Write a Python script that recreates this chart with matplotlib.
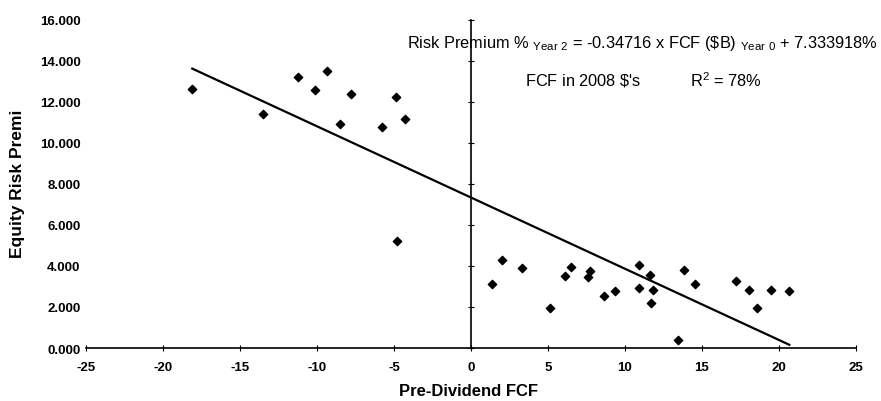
import numpy as np
import matplotlib
matplotlib.use("Agg")
import matplotlib.pyplot as plt

plt.rcParams["font.family"] = ["Liberation Sans", "DejaVu Sans"]
plt.rcParams["mathtext.fontset"] = "custom"
plt.rcParams["mathtext.rm"] = "Liberation Sans"
plt.rcParams["axes.unicode_minus"] = False

# pre-dividend FCF ($B, 2008 dollars) vs equity risk premium two years later
fcf = [-18.1, -13.5, -11.25, -10.1, -9.33, -7.77, -8.5, -5.76, -4.87, -4.27, -4.83,
       1.38, 2.01, 3.33, 5.15, 6.08, 6.47, 7.6, 7.71, 8.62, 9.37, 10.93, 10.91,
       11.64, 11.84, 11.69, 13.42, 13.85, 14.55, 17.23, 18.03, 18.55, 19.48, 20.67]
erp = [12.63, 11.4, 13.2, 12.59, 13.51, 12.39, 10.93, 10.76, 12.23, 11.17, 5.2,
       3.12, 4.29, 3.92, 1.95, 3.53, 3.97, 3.46, 3.77, 2.52, 2.76, 4.07, 2.94,
       3.56, 2.81, 2.18, 0.41, 3.82, 3.12, 3.28, 2.83, 1.95, 2.83, 2.78]
slope = -0.34716
intercept = 7.333918
xticks = [-25, -20, -15, -10, -5, 0, 5, 10, 15, 20, 25]
yticks = [0, 2, 4, 6, 8, 10, 12, 14, 16]

fig = plt.figure(figsize=(8.81, 4.02), dpi=100)
ax = fig.add_axes([0.0976, 0.1318, 0.874, 0.8167])

ax.scatter(fcf, erp, marker="D", s=18, color="black", zorder=3)
xfit = np.array([min(fcf), max(fcf)])
ax.plot(xfit, slope * xfit + intercept, color="black", lw=1.6)

ax.set_xlim(-25, 25)
ax.set_ylim(0, 16)
ax.set_xticks(xticks)
ax.set_yticks(yticks)

ax.spines["top"].set_visible(False)
ax.spines["right"].set_visible(False)
ax.spines["left"].set_position(("data", 0))
ax.spines["bottom"].set_linewidth(1.2)
ax.spines["left"].set_linewidth(1.2)
ax.tick_params(axis="y", direction="inout", length=4, labelleft=False)
ax.tick_params(axis="x", direction="inout", length=5, pad=7, labelsize=9.5)
for lab in ax.get_xticklabels():
    lab.set_fontweight("bold")

# y tick labels sit at the left edge, away from the axis line
sec = ax.secondary_yaxis(0.0)
sec.spines["left"].set_visible(False)
sec.set_yticks(yticks)
sec.set_yticklabels([f"{v:.3f}" for v in yticks], fontsize=9.5, fontweight="bold")
sec.tick_params(axis="y", length=0, pad=4)

fig.text(0.532, 0.025, "Pre-Dividend FCF", fontsize=12, fontweight="bold",
         ha="center", va="center")
fig.text(0.020, 0.542, "Equity Risk Premi", rotation=90, fontsize=12.5,
         fontweight="bold", ha="center", va="center")

fig.text(0.729, 0.893,
         r"Risk Premium % $_{\mathrm{Year\ 2}}$ = -0.34716 x FCF (\$B) $_{\mathrm{Year\ 0}}$ + 7.333918%",
         fontsize=11.8, ha="center", va="center")
fig.text(0.73, 0.80, r"FCF in 2008 \$'s           R$^{2}$ = 78%",
         fontsize=11.8, ha="center", va="center")

fig.savefig("out.png", dpi=100)
